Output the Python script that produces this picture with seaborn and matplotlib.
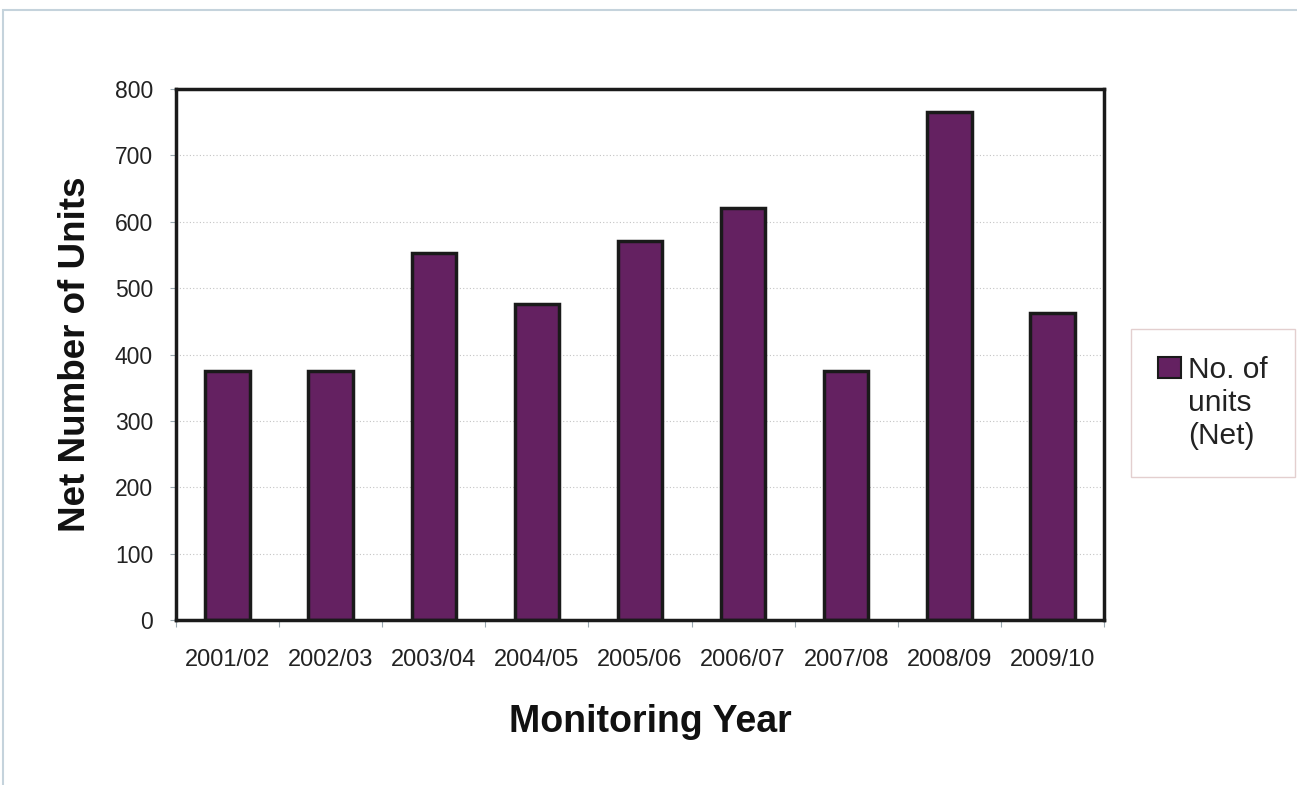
import pandas as pd
import matplotlib.pyplot as plt
import seaborn as sns
from matplotlib.patches import Rectangle, Patch

years = ["2001/02", "2002/03", "2003/04", "2004/05", "2005/06",
         "2006/07", "2007/08", "2008/09", "2009/10"]
units = [375, 375, 553, 476, 571, 621, 375, 766, 463]

df = pd.DataFrame({"year": years, "units": units})

sns.set_style("white")
plt.rcParams["font.family"] = ["Liberation Sans", "DejaVu Sans"]

fig = plt.figure(figsize=(12.97, 7.85), dpi=100)
ax = fig.add_axes([176 / 1297, 1 - 620 / 785, 928 / 1297, 531 / 785])

sns.barplot(data=df, x="year", y="units", color="#642161", width=0.43,
            edgecolor="#1a1a1a", linewidth=2.5, saturation=1, ax=ax)

ax.set_ylim(0, 800)
ax.set_xlim(-0.5, len(years) - 0.5)
ax.set_yticks(range(0, 801, 100))
ax.yaxis.grid(True, linestyle=(0, (1, 2)), color="#c4c4c4", linewidth=0.8)
ax.set_axisbelow(True)

for s in ax.spines.values():
    s.set_visible(True)
    s.set_color("#1a1a1a")
    s.set_linewidth(2.5)

ax.tick_params(axis="y", labelsize=16.5, left=True, length=4.5, width=0.8,
               color="#9aa8b0", pad=12, labelcolor="#222222")
ax.set_xticks(range(len(years)))
ax.set_xticklabels(years)
ax.tick_params(axis="x", labelsize=17, bottom=False, length=0, pad=21,
               labelcolor="#222222")
ax.set_xticks([i + 0.5 for i in range(-1, len(years))], minor=True)
ax.tick_params(axis="x", which="minor", bottom=True, length=5, width=0.8,
               color="#9aa8b0")

ax.set_xlabel("Monitoring Year", fontsize=27, fontweight="bold",
              labelpad=24, color="#111111")
ax.xaxis.label.set_x(0.511)
ax.set_ylabel("Net Number of Units", fontsize=26.5, fontweight="bold",
              labelpad=16, color="#111111")

handles = [Patch(facecolor="#642161", edgecolor="#1a1a1a", linewidth=1.5),
           Patch(visible=False), Patch(visible=False)]
leg = fig.legend(handles, ["No. of", "units", "(Net)"], loc="center",
                 bbox_to_anchor=(1213 / 1297, 1 - 403 / 785), fontsize=21.5,
                 frameon=True, fancybox=False, borderpad=0.9, labelspacing=0.17,
                 handlelength=0.75, handleheight=0.75, handletextpad=0.25,
                 labelcolor="#222222")
leg.get_frame().set_edgecolor("#dcc4c4")
leg.get_frame().set_linewidth(1)

# light frame around the slide
fig.patches.append(Rectangle((3 / 1297, -0.1), 1.2, 1 - 10 / 785 + 0.1,
                             transform=fig.transFigure, fill=False,
                             edgecolor="#c5d3dc", linewidth=1.5))

fig.savefig("out.png", dpi=100)
